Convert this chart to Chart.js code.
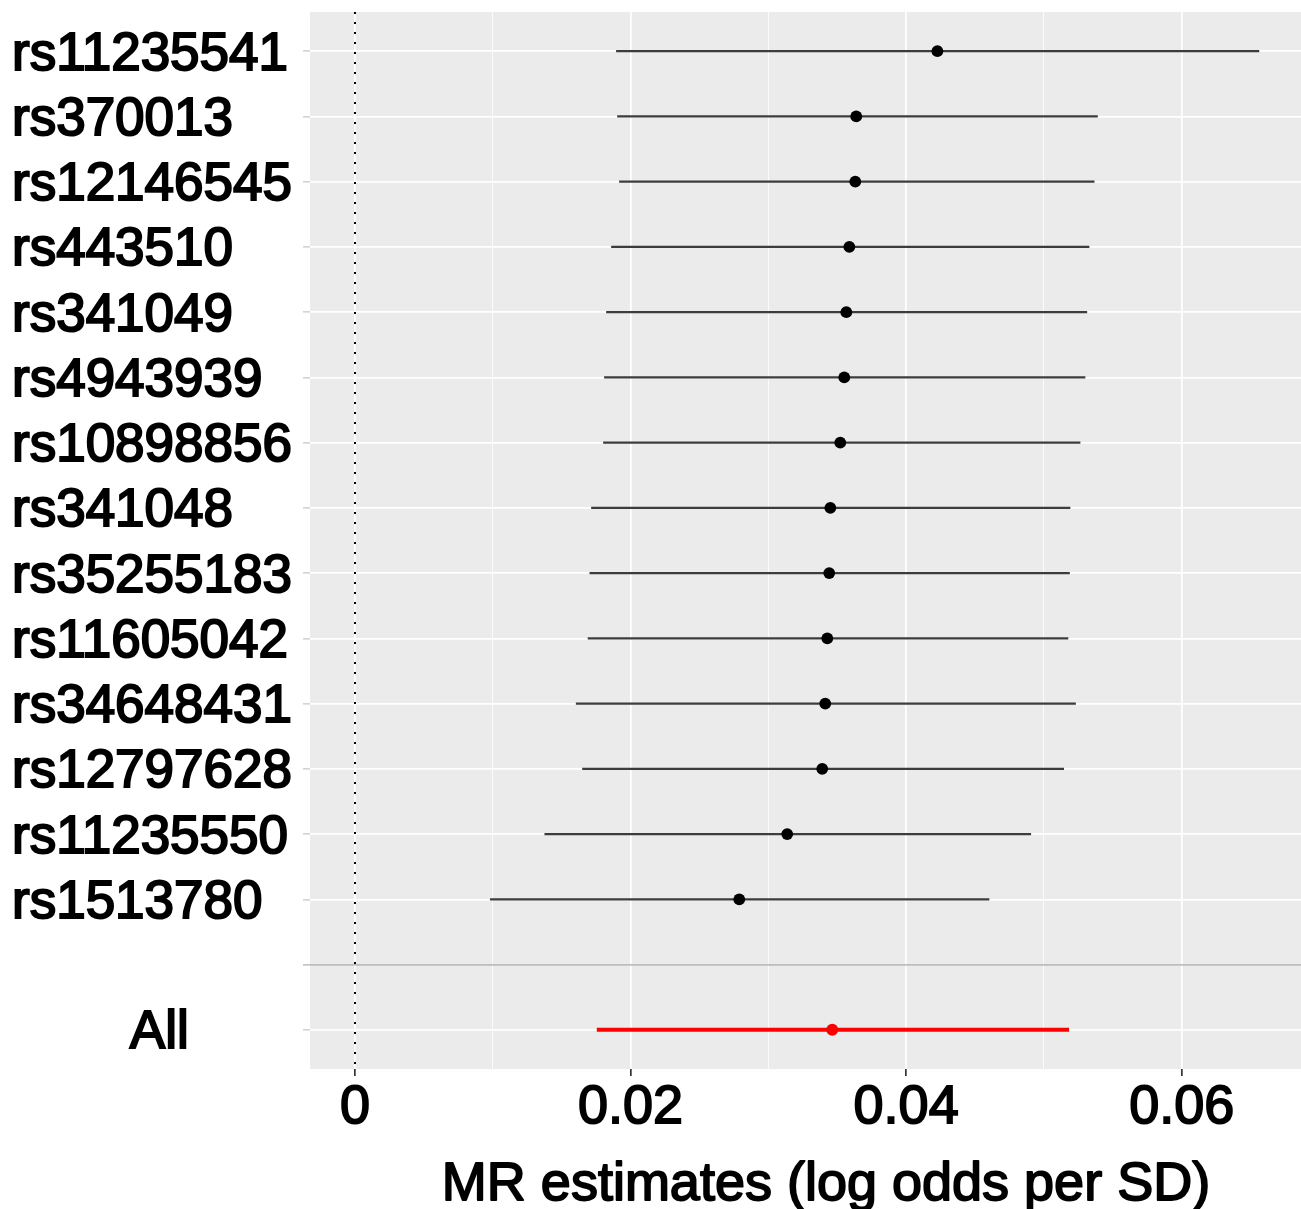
<!DOCTYPE html>
<html><head><meta charset="utf-8">
<script src="https://cdn.jsdelivr.net/npm/chart.js@4/dist/chart.umd.min.js"></script>
<style>html,body{margin:0;padding:0;background:#fff;overflow:hidden}canvas{display:block}</style>
</head><body>
<canvas id="c" width="1301" height="1209"></canvas>
<script>
const snps = ['rs11235541','rs370013','rs12146545','rs443510','rs341049','rs4943939','rs10898856','rs341048','rs35255183','rs11605042','rs34648431','rs12797628','rs11235550','rs1513780'];
const estimates = [0.04227,0.03638,0.03631,0.03588,0.03566,0.03551,0.03522,0.03450,0.03442,0.03428,0.03413,0.03391,0.03137,0.02789];
const lower = [0.01895,0.01903,0.01917,0.01859,0.01823,0.01808,0.01801,0.01714,0.01702,0.01689,0.01603,0.01649,0.01375,0.00980];
const upper = [0.06563,0.05391,0.05367,0.05330,0.05314,0.05301,0.05265,0.05192,0.05188,0.05177,0.05232,0.05146,0.04907,0.04604];
const overallLabel = 'All';
const overallEstimate = 0.03464;
const overallLower = 0.01755;
const overallUpper = 0.05183;
const xTickValues = [0, 0.01, 0.02, 0.03, 0.04, 0.05, 0.06];
const xTickLabels = ['0', '', '0.02', '', '0.04', '', '0.06'];
const xTitle = 'MR estimates (log odds per SD)';

const sepIndex = snps.length;
const allIndex = snps.length + 1;
const rowLabels = [...snps, '', '        ' + overallLabel];
const FONT = '"Liberation Sans", Arial, Helvetica, sans-serif';

const datasets = [];
snps.forEach((s, i) => {
  datasets.push({
    label: s + ' CI', showLine: true, order: 1,
    data: [{x: lower[i], y: i}, {x: upper[i], y: i}],
    borderColor: '#3c3c3c', borderWidth: 2.2, pointRadius: 0, borderCapStyle: 'butt'
  });
});
datasets.push({
  label: 'estimates', order: 0,
  data: estimates.map((e, i) => ({x: e, y: i})),
  backgroundColor: '#000', borderColor: '#000', pointRadius: 5.9, borderWidth: 0
});
datasets.push({
  label: 'All CI', showLine: true, order: 1,
  data: [{x: overallLower, y: allIndex}, {x: overallUpper, y: allIndex}],
  borderColor: '#ff0000', borderWidth: 4, pointRadius: 0, borderCapStyle: 'butt'
});
datasets.push({
  label: 'All', order: 0,
  data: [{x: overallEstimate, y: allIndex}],
  backgroundColor: '#ff0000', borderColor: '#ff0000', pointRadius: 6, borderWidth: 0
});
datasets.push({
  label: 'zero', showLine: true, order: 2,
  data: [{x: 0, y: -0.6}, {x: 0, y: allIndex + 0.6}],
  borderColor: '#000', borderWidth: 2, borderDash: [2, 8], pointRadius: 0, borderCapStyle: 'butt'
});

const panelBg = {
  id: 'panelBg',
  beforeDraw(chart) {
    const {ctx, chartArea: a} = chart;
    ctx.save();
    ctx.fillStyle = '#EBEBEB';
    ctx.fillRect(a.left, a.top, a.right - a.left, a.bottom - a.top);
    ctx.restore();
  }
};
const xTitlePlugin = {
  id: 'xTitle',
  afterDraw(chart) {
    const ctx = chart.ctx;
    ctx.save();
    ctx.font = '54px ' + FONT;
    ctx.fillStyle = '#000';
    ctx.strokeStyle = '#000';
    ctx.lineWidth = 1.8;
    ctx.lineJoin = 'round';
    ctx.textAlign = 'center';
    ctx.textBaseline = 'alphabetic';
    ctx.fillText(xTitle, 826, 1200);
    ctx.strokeText(xTitle, 826, 1200);
    ctx.restore();
  }
};

new Chart(document.getElementById('c'), {
  type: 'scatter',
  data: {datasets},
  plugins: [panelBg, xTitlePlugin],
  options: {
    responsive: false,
    animation: false,
    layout: {autoPadding: false, padding: {left: 12, top: 12, right: 0, bottom: 0}},
    plugins: {legend: {display: false}, tooltip: {enabled: false}},
    scales: {
      x: {
        type: 'linear', min: -0.003266, max: 0.06866,
        afterBuildTicks: s => { s.ticks = xTickValues.map(v => ({value: v})); },
        afterFit: s => { s.height = 140; s.paddingLeft = 0; s.paddingRight = 0; },
        border: {display: false},
        grid: {
          color: '#ffffff',
          lineWidth: c => (c.tick && xTickLabels[xTickValues.indexOf(c.tick.value)] !== '') ? 1.7 : 0.8,
          tickColor: c => (c.tick && xTickLabels[xTickValues.indexOf(c.tick.value)] !== '') ? '#333333' : 'rgba(0,0,0,0)',
          tickLength: 7, tickWidth: 1.7
        },
        ticks: {
          autoSkip: false, maxRotation: 0, padding: 0, color: '#000',
          textStrokeColor: '#000', textStrokeWidth: 1.8,
          font: {family: FONT, size: 54},
          callback: v => { const i = xTickValues.findIndex(t => Math.abs(t - v) < 1e-9); return i >= 0 ? xTickLabels[i] : ''; }
        }
      },
      y: {
        type: 'linear', reverse: true, min: -0.6, max: allIndex + 0.6,
        afterBuildTicks: s => { s.ticks = rowLabels.map((_, i) => ({value: i})); },
        afterFit: s => { s.width = 298; s.paddingTop = 0; s.paddingBottom = 0; },
        border: {display: false},
        grid: {
          color: c => (c.tick && c.tick.value === sepIndex) ? '#bdbdbd' : '#ffffff',
          lineWidth: 1.7,
          tickColor: c => (c.tick && c.tick.value === sepIndex) ? '#bdbdbd' : '#d0d0d0',
          tickLength: 7, tickWidth: 1.5
        },
        ticks: {
          autoSkip: false, crossAlign: 'far', color: '#000',
          textStrokeColor: '#000', textStrokeWidth: 2,
          labelOffset: 4,
          font: {family: FONT, size: 53},
          callback: v => rowLabels[Math.round(v)] ?? ''
        }
      }
    }
  }
});
</script>
</body></html>
